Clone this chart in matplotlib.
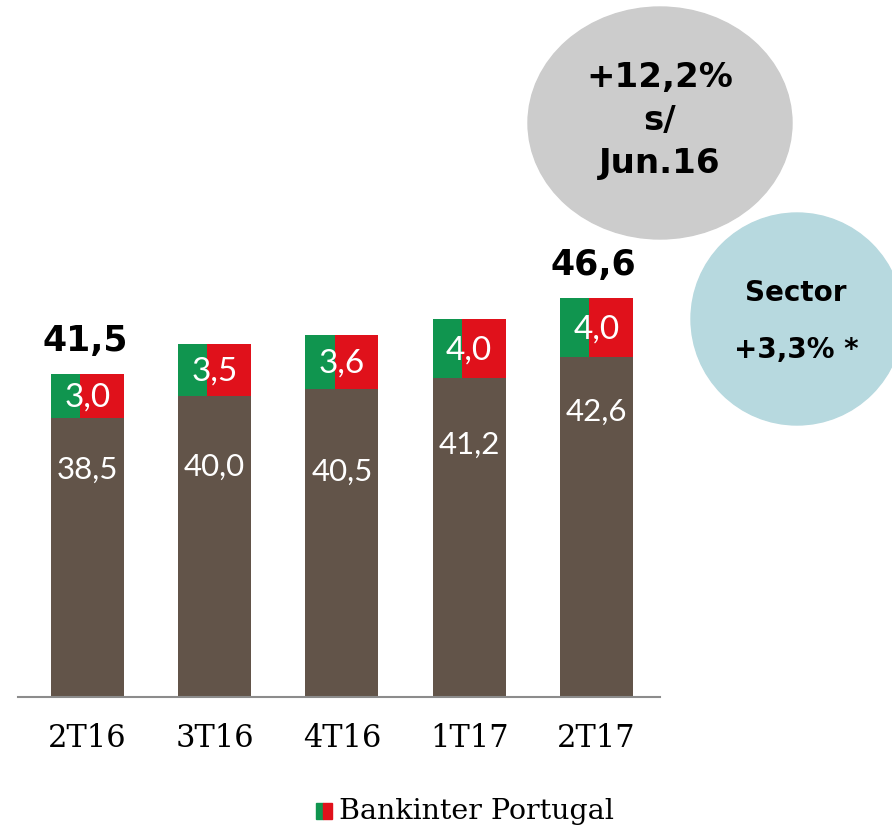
import matplotlib
matplotlib.use("Agg")
import matplotlib.pyplot as plt
from matplotlib.patches import Ellipse, Rectangle

# Data
quarters = ["2T16", "3T16", "4T16", "1T17", "2T17"]
base_vals = [38.5, 40.0, 40.5, 41.2, 42.6]
portugal_vals = [3.0, 3.5, 3.6, 4.0, 4.0]
total_labels = {0: "41,5", 4: "46,6"}

# how far below the brown top each inner label sits (data units)
label_drop = [3.4, 4.7, 5.5, 4.4, 3.6]

BROWN = "#625449"
GREEN = "#10954f"
RED = "#e0111b"

W, H = 892, 829
fig = plt.figure(figsize=(W / 100, H / 100), dpi=100)

# main axes: x from 18px to 660px, bottom at 698px
ax = fig.add_axes([18 / W, 1 - 698 / H, (660 - 18) / W, 698 / H])
ax.set_xlim(-0.546, 4.5)
ax.set_ylim(19.8, 19.8 + 698 / 14.9)

bw = 0.574
gfrac = 0.4
x = list(range(len(quarters)))
ax.bar(x, base_vals, width=bw, color=BROWN, bottom=0, zorder=2)
# green left part, red right part of the top segment
gx = [i - bw / 2 for i in x]
ax.bar(gx, portugal_vals, width=bw * gfrac, bottom=base_vals, color=GREEN,
       align="edge", zorder=2)
rx = [i - bw / 2 + bw * gfrac for i in x]
ax.bar(rx, portugal_vals, width=bw * (1 - gfrac), bottom=base_vals, color=RED,
       align="edge", zorder=2)

def fmt(v):
    return f"{v:.1f}".replace(".", ",")

for i in x:
    ax.text(i, base_vals[i] - label_drop[i], fmt(base_vals[i]), color="white",
            ha="center", va="center", fontsize=22.5, family="Lato", zorder=3)
    ax.text(i, base_vals[i] + portugal_vals[i] / 2 - 0.05, fmt(portugal_vals[i]),
            color="white", ha="center", va="center", fontsize=24,
            family="Lato", zorder=3)

for i, lab in total_labels.items():
    ax.annotate(lab, (i, base_vals[i] + portugal_vals[i]), xytext=(-2, 12),
                textcoords="offset points", ha="center", va="bottom",
                fontsize=25, fontweight="bold", family="DejaVu Sans")

for s in ["top", "right", "left"]:
    ax.spines[s].set_visible(False)
ax.spines["bottom"].set_color("#8c8c8c")
ax.spines["bottom"].set_linewidth(1.5)
ax.set_yticks([])
ax.set_xticks(x)
ax.set_xticklabels(quarters, fontsize=22, family="DejaVu Serif")
ax.tick_params(axis="x", length=0, pad=18)

# overlay in pixel coordinates for bubbles and legend
ov = fig.add_axes([0, 0, 1, 1], zorder=5)
ov.set_xlim(0, W)
ov.set_ylim(H, 0)
ov.axis("off")
ov.patch.set_alpha(0)

ov.add_patch(Ellipse((660, 124), 264, 232, color="#cccccc"))
for yy, t in [(77, "+12,2%"), (120, "s/"), (163, "Jun.16")]:
    ov.text(660, yy, t, ha="center", va="center", fontsize=24.5,
            fontweight="bold", family="DejaVu Sans")

ov.add_patch(Ellipse((797, 320), 212, 212, color="#b7d9df"))
ov.text(796, 293, "Sector", ha="center", va="center", fontsize=20,
        fontweight="bold", family="DejaVu Sans")
ov.text(796, 350, "+3,3% *", ha="center", va="center", fontsize=20,
        fontweight="bold", family="DejaVu Sans")

# legend
ov.add_patch(Rectangle((316, 804), 7, 16, color=GREEN))
ov.add_patch(Rectangle((323, 804), 9, 16, color=RED))
ov.text(339, 812, "Bankinter Portugal", ha="left", va="center", fontsize=20.5,
        family="DejaVu Serif")

fig.savefig("out.png", dpi=100)
